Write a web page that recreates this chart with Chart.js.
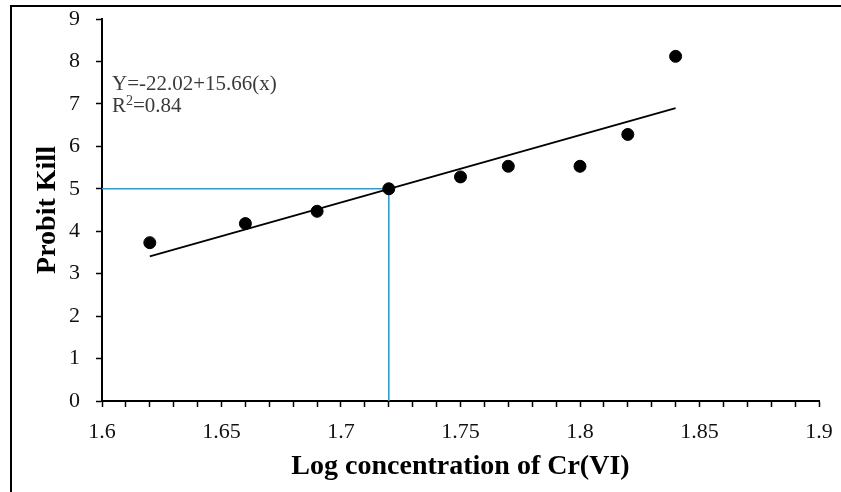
<!DOCTYPE html>
<html>
<head>
<meta charset="utf-8">
<script src="https://cdn.jsdelivr.net/npm/chart.js@4"></script>
<style>
  html, body { margin: 0; padding: 0; background: #fff; }
  #wrap { position: relative; width: 841px; height: 492px; }
  #frame { position: absolute; left: 10px; top: 5px; right: 0; bottom: 0;
           border-top: 2.5px solid #000; border-left: 2.5px solid #000; pointer-events: none; }
</style>
</head>
<body>
<div id="wrap">
  <canvas id="probitChart" width="841" height="492"></canvas>
  <div id="frame"></div>
</div>
<script>
// observed points
const logConc = [1.62, 1.66, 1.69, 1.72, 1.75, 1.77, 1.80, 1.82, 1.84];
const probitKill = [3.73, 4.18, 4.47, 5.0, 5.28, 5.53, 5.53, 6.28, 8.12];

// fitted line end points
const trendX = [1.62, 1.84];
const trendY = [3.41, 6.9];

// LC50 guide (probit 5)
const guideX = [1.6, 1.72, 1.72];
const guideY = [5, 5, 0];

const equationText = 'Y=-22.02+15.66(x)';
const r2Value = '0.84';

const serif = '"Liberation Serif", "Times New Roman", serif';

function toPoints(xs, ys) {
    return xs.map((x, i) => ({ x: x, y: ys[i] }));
}

// equation label in the top left of the plot
const equationLabel = {
    id: 'equationLabel',
    afterDatasetsDraw(chart) {
        const ctx = chart.ctx;
        const left = chart.chartArea.left + 10;
        const top = chart.chartArea.top;
        ctx.save();
        ctx.fillStyle = '#3a3a3a';
        ctx.textBaseline = 'alphabetic';
        ctx.font = '21px ' + serif;
        ctx.fillText(equationText, left, top + 71);
        let x = left;
        const y2 = top + 93;
        ctx.fillText('R', x, y2);
        x += ctx.measureText('R').width;
        ctx.font = '14px ' + serif;
        ctx.fillText('2', x, y2 - 7);
        x += ctx.measureText('2').width;
        ctx.font = '21px ' + serif;
        ctx.fillText('=' + r2Value, x, y2);
        ctx.restore();
    }
};

new Chart(document.getElementById('probitChart'), {
    type: 'scatter',
    data: {
        datasets: [
            {
                label: 'Probit kill',
                data: toPoints(logConc, probitKill),
                backgroundColor: '#000',
                borderColor: '#000',
                pointRadius: 6,
                pointHoverRadius: 6,
                order: 0
            },
            {
                label: 'Linear fit',
                type: 'line',
                data: toPoints(trendX, trendY),
                borderColor: '#000',
                borderWidth: 1.8,
                pointRadius: 0,
                fill: false,
                order: 1
            },
            {
                label: 'LC50',
                type: 'line',
                data: toPoints(guideX, guideY),
                borderColor: '#1fa2de',
                borderWidth: 1.6,
                pointRadius: 0,
                fill: false,
                order: 2
            }
        ]
    },
    options: {
        responsive: false,
        animation: false,
        events: [],
        layout: { padding: { top: 19, right: 22, left: 0, bottom: 0 } },
        plugins: {
            legend: { display: false },
            tooltip: { enabled: false }
        },
        scales: {
            x: {
                type: 'linear',
                min: 1.6,
                max: 1.9,
                afterFit(scale) {
                    scale.height = 91;
                    scale.paddingLeft = 0;
                    scale.paddingRight = 0;
                },
                border: { display: true, color: '#000', width: 2 },
                grid: { drawOnChartArea: false, drawTicks: true, tickLength: 6, tickColor: '#000', tickWidth: 1.5 },
                ticks: {
                    stepSize: 0.01,
                    autoSkip: false,
                    maxRotation: 0,
                    padding: 12,
                    color: '#111',
                    font: { family: serif, size: 22 },
                    callback(v) {
                        const k = v * 20;
                        if (Math.abs(k - Math.round(k)) > 1e-6) return '';
                        return String(Number(v.toFixed(2)));
                    }
                },
                title: {
                    display: true,
                    text: 'Log concentration of Cr(VI)',
                    color: '#000',
                    font: { family: serif, size: 28, weight: 'bold' },
                    padding: { top: 0, bottom: 8 }
                }
            },
            y: {
                min: 0,
                max: 9,
                afterFit(scale) {
                    scale.width = 102;
                    scale.paddingTop = 0;
                    scale.paddingBottom = 0;
                },
                border: { display: true, color: '#000', width: 2 },
                grid: { drawOnChartArea: false, drawTicks: true, tickLength: 6, tickColor: '#000', tickWidth: 1.5 },
                ticks: {
                    stepSize: 1,
                    padding: 16,
                    color: '#111',
                    font: { family: serif, size: 22 }
                },
                title: {
                    display: true,
                    text: 'Probit Kill',
                    color: '#000',
                    font: { family: serif, size: 28, weight: 'bold' },
                    padding: { top: 31, bottom: 0 }
                }
            }
        }
    },
    plugins: [equationLabel]
});
</script>
</body>
</html>
